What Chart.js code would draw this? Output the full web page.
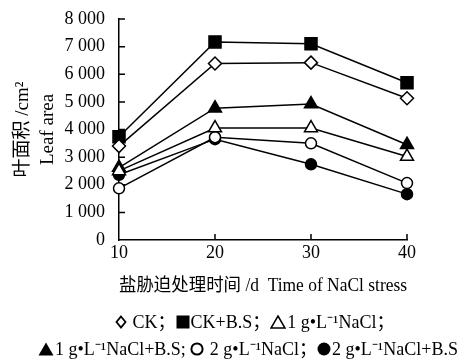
<!DOCTYPE html>
<html><head><meta charset="utf-8">
<script src="https://cdn.jsdelivr.net/npm/chart.js@4"></script>
<style>
html,body{margin:0;padding:0;background:#fff;}
#wrap{position:relative;width:464px;height:360px;}
canvas{position:absolute;left:0;top:0;}
.leg{position:absolute;white-space:nowrap;font-family:'Liberation Serif','Noto Sans CJK SC',serif;font-size:18px;color:#000;line-height:20px;}
.leg svg{vertical-align:-1px;margin-right:1px;}
</style></head>
<body><div id="wrap"><canvas id="c" width="464" height="360"></canvas>
<div class="leg" id="leg1" style="left:115px;top:312px;"><svg width="12" height="14" viewBox="0 0 12 14"><path d="M6 1.5 L10.5 7 L6 12.5 L1.5 7 Z" fill="#fff" stroke="#000" stroke-width="1.8"/></svg> CK；<svg width="14" height="14" viewBox="0 0 14 14"><rect x="0.5" y="0.5" width="13" height="13" fill="#000"/></svg>CK+B.S；<svg width="16" height="14" viewBox="0 0 16 14"><path d="M8 1 L15 13 L1 13 Z" fill="#fff" stroke="#000" stroke-width="1.5"/></svg>1 g•L⁻¹NaCl；</div>
<div class="leg" id="leg2" style="left:38px;top:339px;"><svg width="16" height="14" viewBox="0 0 16 14"><path d="M8 0.5 L15.5 13.5 L0.5 13.5 Z" fill="#000"/></svg>1 g•L⁻¹NaCl+B.S; <svg width="14" height="14" viewBox="0 0 14 14"><circle cx="7" cy="7" r="5.6" fill="#fff" stroke="#000" stroke-width="2"/></svg> 2 g•L⁻¹NaCl；<svg width="14" height="14" viewBox="0 0 14 14"><circle cx="7" cy="7" r="6.5" fill="#000"/></svg>2 g•L⁻¹NaCl+B.S</div>
</div>
<script>
const days = [10, 20, 30, 40];
const ck = [3400, 6390, 6420, 5130];
const ckBS = [3740, 7170, 7100, 5690];
const nacl1 = [2500, 4050, 4050, 3020];
const nacl1BS = [2620, 4770, 4920, 3450];
const nacl2 = [1870, 3720, 3500, 2060];
const nacl2BS = [2360, 3650, 2740, 1660];
const yTickLabels = ['0', '1 000', '2 000', '3 000', '4 000', '5 000', '6 000', '7 000', '8 000'];
const xTitle = '盐胁迫处理时间 /d  Time of NaCl stress';
const yTitle = ['叶面积 /cm²', 'Leaf area'];

const FONT = "'Liberation Serif','Noto Sans CJK SC',serif";
function mk(label, vals, style, filled, r) {
  return {
    label, data: days.map((d, i) => ({x: d, y: vals[i]})),
    borderColor: '#000', borderWidth: 1.5, clip: false,
    pointStyle: style, pointRadius: r, pointHoverRadius: r,
    pointBackgroundColor: filled ? '#000' : '#fff',
    pointBorderColor: '#000', pointBorderWidth: 1.5, tension: 0
  };
}
const inwardTicks = {
  id: 'inwardTicks',
  beforeDatasetsDraw(chart) {
    const {ctx, scales: {x, y}} = chart;
    ctx.save();
    ctx.strokeStyle = '#000'; ctx.lineWidth = 1.5;
    ctx.beginPath();
    y.ticks.forEach(t => { if (t.value > 0) { const p = y.getPixelForValue(t.value); ctx.moveTo(x.left, p); ctx.lineTo(x.left + 6, p); } });
    x.ticks.forEach(t => { if (t.value > 10) { const p = x.getPixelForValue(t.value); ctx.moveTo(p, y.bottom); ctx.lineTo(p, y.bottom - 6); } });
    ctx.stroke();
    ctx.restore();
  }
};
new Chart(document.getElementById('c'), {
  type: 'line',
  data: { datasets: [
    mk('CK', ck, 'rectRot', false, 6.5),
    mk('CK+B.S', ckBS, 'rect', true, 8.5),
    mk('1 g·L⁻¹NaCl', nacl1, 'triangle', false, 7.5),
    mk('1 g·L⁻¹NaCl+B.S', nacl1BS, 'triangle', true, 7.5),
    mk('2 g·L⁻¹NaCl', nacl2, 'circle', false, 5.5),
    mk('2 g·L⁻¹NaCl+B.S', nacl2BS, 'circle', true, 5.5)
  ]},
  options: {
    responsive: false, animation: false,
    layout: { padding: { left: 0, right: 57, top: 19, bottom: 60 } },
    plugins: { legend: { display: false }, tooltip: { enabled: false } },
    scales: {
      x: {
        type: 'linear', min: 10, max: 40,
        afterFit: s => { s.height = 60; s.paddingLeft = 0; s.paddingRight = 0; },
        ticks: { stepSize: 10, color: '#000', padding: 2, font: { family: FONT, size: 18 } },
        grid: { drawOnChartArea: false, drawTicks: false },
        border: { color: '#000', width: 1.5 },
        title: { display: true, text: xTitle, color: '#000', padding: { top: 0, bottom: 2 }, font: { family: FONT, size: 18, lineHeight: 1.25 } }
      },
      y: {
        min: 0, max: 8000,
        afterFit: s => { s.width = 119; s.paddingTop = 0; s.paddingBottom = 0; },
        ticks: { stepSize: 1000, color: '#000', padding: 14, font: { family: FONT, size: 18 },
          callback: (v) => yTickLabels[Math.round(v / 1000)] },
        grid: { drawOnChartArea: false, drawTicks: false },
        border: { color: '#000', width: 1.5 },
        title: { display: true, text: yTitle, color: '#000', padding: { top: 10, bottom: 0 }, font: { family: FONT, size: 19, lineHeight: 1.32 } }
      }
    }
  },
  plugins: [inwardTicks]
});
</script></body></html>
